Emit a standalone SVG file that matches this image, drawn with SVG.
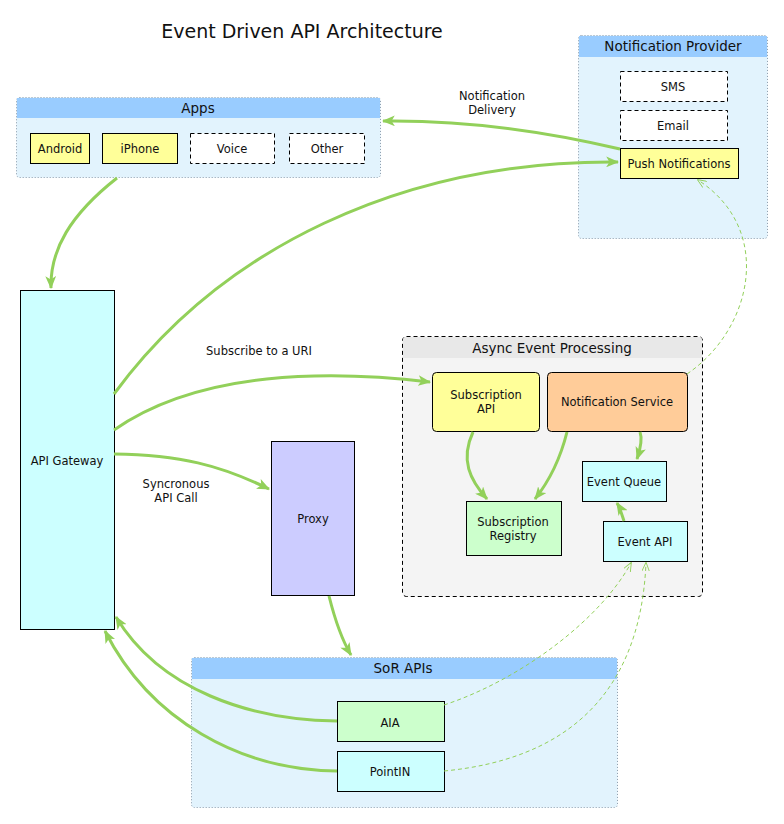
<svg xmlns="http://www.w3.org/2000/svg" width="784" height="824" viewBox="0 0 784 824">
<defs>
<style>
text{font-family:"DejaVu Sans","Liberation Sans",sans-serif;fill:#111;text-anchor:middle}
.t{font-size:11.5px}
.h{font-size:13.5px}
.grp{fill:#e2f3fd;stroke:#8899aa;stroke-width:1;stroke-dasharray:1,2}
.hdr{fill:#99ccff}
.box{stroke:#000;stroke-width:1}
.dash{fill:#fff;stroke:#000;stroke-width:1;stroke-dasharray:4,3}
.yel{fill:#ffff99}
.cyan{fill:#ccffff}
.grn{fill:#ccffcc}
.c{fill:none;stroke:#92d05a;stroke-width:3;marker-end:url(#ah)}
.d{fill:none;stroke:#92d05a;stroke-width:1;stroke-dasharray:4,3;marker-end:url(#ad)}
</style>
<marker id="ah" viewBox="0 0 12 10" refX="11" refY="5" markerWidth="4.3" markerHeight="3.6" orient="auto" markerUnits="strokeWidth">
<path d="M0,0 L12,5 L0,10 L3,5 z" fill="#92d05a"/>
</marker>
<marker id="ad" viewBox="0 0 12 10" refX="11" refY="5" markerWidth="9" markerHeight="8" orient="auto" markerUnits="strokeWidth">
<path d="M0,0 L12,5 L0,10" fill="none" stroke="#92d05a" stroke-width="1.2"/>
</marker>
</defs>
<rect width="784" height="824" fill="#fff"/>
<text x="302" y="38" style="font-size:19px">Event Driven API Architecture</text>

<g id="apps">
<rect class="grp" x="16.5" y="97.5" width="364" height="80" rx="3"/>
<rect class="hdr" x="17" y="98" width="363" height="20"/>
<text class="h" x="198" y="113">Apps</text>
</g>
<g id="android"><rect class="box yel" x="30.5" y="133.5" width="59" height="30"/><text class="t" x="60" y="153">Android</text></g>
<g id="iphone"><rect class="box yel" x="102.5" y="133.5" width="75" height="30"/><text class="t" x="140" y="153">iPhone</text></g>
<g id="voice"><rect class="dash" x="190.5" y="133.5" width="84" height="30"/><text class="t" x="232" y="153">Voice</text></g>
<g id="other"><rect class="dash" x="289.5" y="133.5" width="75" height="30"/><text class="t" x="327" y="153">Other</text></g>

<g id="notification-provider">
<rect class="grp" x="578.5" y="35.5" width="189" height="203" rx="3"/>
<rect class="hdr" x="579" y="36" width="188" height="21"/>
<text class="h" x="673" y="51">Notification Provider</text>
</g>
<g id="sms"><rect class="dash" x="620.5" y="71.5" width="107" height="30"/><text class="t" x="673" y="91">SMS</text></g>
<g id="email"><rect class="dash" x="620.5" y="110.5" width="107" height="30"/><text class="t" x="673" y="130">Email</text></g>
<g id="push"><rect class="box yel" x="620.5" y="148.5" width="118" height="30"/><text class="t" x="679" y="168">Push Notifications</text></g>

<g id="api-gateway"><rect class="box cyan" x="20.5" y="290.5" width="94" height="339"/><text class="t" x="67" y="465">API Gateway</text></g>
<g id="proxy"><rect class="box" fill="#ccccff" x="271.5" y="441.5" width="83" height="154"/><text class="t" x="313" y="523">Proxy</text></g>

<g id="async">
<rect x="402.5" y="336.5" width="300" height="260" rx="4" fill="#f4f4f4" stroke="#000" stroke-dasharray="4,3"/>
<path d="M403,358 V340 a3,3 0 0 1 3,-3 H699 a3,3 0 0 1 3,3 V358 z" fill="#e8e8e8"/>
<text class="h" x="552" y="353">Async Event Processing</text>
</g>
<g id="subscription-api"><rect class="box yel" x="432.5" y="372.5" width="107" height="59" rx="4"/><text class="t" x="486" y="399">Subscription</text><text class="t" x="486" y="413">API</text></g>
<g id="notification-service"><rect class="box" fill="#ffcc99" x="547.5" y="372.5" width="140" height="59" rx="4"/><text class="t" x="617" y="406">Notification Service</text></g>
<g id="subscription-registry"><rect class="box grn" x="466.5" y="501.5" width="95" height="54"/><text class="t" x="513" y="526">Subscription</text><text class="t" x="513" y="540">Registry</text></g>
<g id="event-queue"><rect class="box cyan" x="582.5" y="461.5" width="84" height="40"/><text class="t" x="624" y="486">Event Queue</text></g>
<g id="event-api"><rect class="box cyan" x="603.5" y="521.5" width="84" height="40"/><text class="t" x="645" y="546">Event API</text></g>

<g id="sor-apis">
<rect class="grp" x="191.5" y="657.5" width="426" height="150" rx="3"/>
<rect class="hdr" x="192" y="658" width="425" height="21"/>
<text class="h" x="403" y="673">SoR APIs</text>
</g>
<g id="aia"><rect class="box grn" x="337.5" y="701.5" width="107" height="40"/><text class="t" x="390" y="727">AIA</text></g>
<g id="pointin"><rect class="box cyan" x="337.5" y="751.5" width="107" height="40"/><text class="t" x="390" y="776">PointIN</text></g>

<g id="connectors">
<path class="c" d="M117,178 C70,215 50,250 51,288"/>
<path class="c" d="M114,394 C220,250 400,160 618,162"/>
<path class="c" d="M620,149 C540,130 460,120 383,121"/>
<path class="c" d="M114,430 C200,370 330,370 430,382"/>
<path class="c" d="M114,454 C180,455 220,465 269,489"/>
<path class="c" d="M329,596 C335,620 342,640 351,655"/>
<path class="c" d="M337,721 C250,720 160,690 116,617"/>
<path class="c" d="M337,771 C240,770 150,720 105,631"/>
<path class="c" d="M473,432 C460,460 470,480 487,499"/>
<path class="c" d="M567,432 C560,460 550,480 535,499"/>
<path class="c" d="M640,432 C643,440 640,450 637,459"/>
<path class="c" d="M624,521 C622,515 620,508 617,503"/>
<path class="d" d="M444,705 C520,680 600,620 631,563"/>
<path class="d" d="M444,771 C560,760 640,700 646,563"/>
<path class="d" d="M687,374 C752,330 775,230 698,180"/>
<text class="t" x="492" y="100">Notification</text>
<text class="t" x="492" y="114">Delivery</text>
<text class="t" x="259" y="355">Subscribe to a URI</text>
<text class="t" x="176" y="488">Syncronous</text>
<text class="t" x="176" y="502">API Call</text>
</g>
</svg>
